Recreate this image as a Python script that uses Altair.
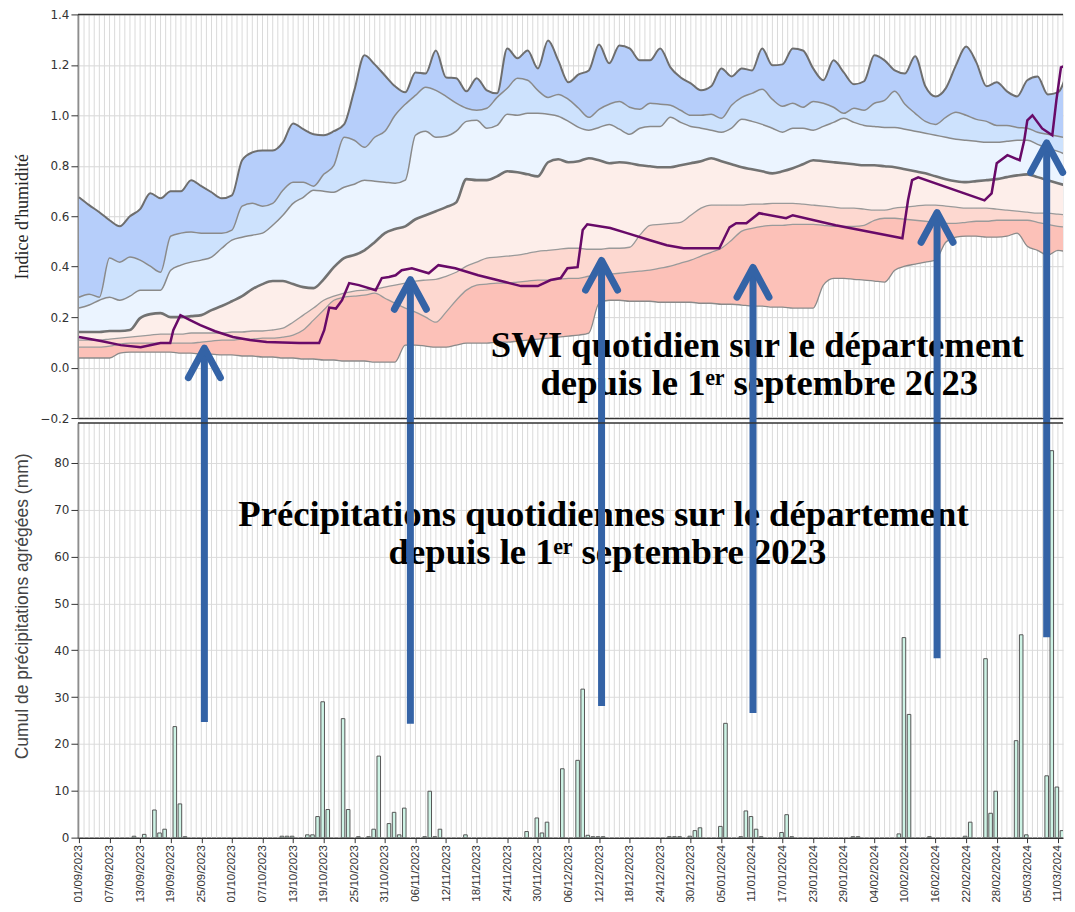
import altair as alt
import pandas as pd

# ---------------- data ----------------
tick_days = list(range(0, 193, 6))
tick_labels = ["01/09/2023", "07/09/2023", "13/09/2023", "19/09/2023", "25/09/2023",
               "01/10/2023", "07/10/2023", "13/10/2023", "19/10/2023", "25/10/2023", "31/10/2023",
               "06/11/2023", "12/11/2023", "18/11/2023", "24/11/2023", "30/11/2023",
               "06/12/2023", "12/12/2023", "18/12/2023", "24/12/2023", "30/12/2023",
               "05/01/2024", "11/01/2024", "17/01/2024", "23/01/2024", "29/01/2024",
               "04/02/2024", "10/02/2024", "16/02/2024", "22/02/2024", "28/02/2024",
               "05/03/2024", "11/03/2024"]

swi_days = list(range(0, 195, 2))
A = [0.675,0.644,0.616,0.584,0.560,0.600,0.628,0.691,0.671,0.699,
     0.699,0.743,0.719,0.695,0.671,0.683,0.822,0.853,0.861,0.861,
     0.893,0.968,0.945,0.925,0.921,0.937,0.964,1.099,1.238,1.202,
     1.158,1.115,1.091,1.170,1.166,1.257,1.150,1.147,1.095,1.147,
     1.099,1.087,1.265,1.226,1.257,1.186,1.297,1.218,1.131,1.162,
     1.178,1.281,1.206,1.277,1.265,1.218,1.218,1.265,1.190,1.150,
     1.127,1.099,1.115,1.186,1.154,1.186,1.178,1.265,1.198,1.202,
     1.265,1.257,1.186,1.139,1.218,1.170,1.123,1.135,1.238,1.218,
     1.178,1.166,1.234,1.115,1.075,1.107,1.198,1.273,1.210,1.115,
     1.131,1.095,1.075,1.139,1.154,1.083,1.091,1.186]
B = [0.279,0.291,0.279,0.434,0.418,0.438,0.426,0.402,0.378,0.521,
     0.533,0.537,0.533,0.533,0.533,0.545,0.640,0.651,0.640,0.651,
     0.703,0.735,0.735,0.719,0.766,0.802,0.913,0.901,0.873,0.913,
     0.937,1.000,1.044,1.079,1.111,1.099,1.075,1.048,1.028,1.020,
     1.028,1.071,1.107,1.147,1.139,1.099,1.071,1.083,1.063,1.028,
     0.992,1.024,1.044,1.055,1.032,1.024,1.048,1.044,1.040,1.020,
     1.000,1.000,1.004,0.988,1.040,1.071,1.087,1.103,1.063,1.036,
     1.048,1.032,1.055,1.048,1.032,1.008,1.028,1.020,1.048,1.059,
     1.095,1.044,1.008,0.976,0.964,0.992,1.012,1.000,0.984,0.976,
     0.960,0.960,0.952,0.949,0.933,0.925,0.917,0.909]
C = [0.236,0.248,0.267,0.279,0.267,0.283,0.307,0.307,0.307,0.386,
     0.406,0.418,0.426,0.438,0.473,0.505,0.517,0.525,0.533,0.564,
     0.604,0.651,0.675,0.703,0.699,0.695,0.715,0.727,0.743,0.739,
     0.735,0.731,0.743,0.921,0.937,0.913,0.917,0.937,0.976,0.980,
     0.949,0.960,1.004,1.000,1.008,1.008,1.004,0.996,0.976,0.952,
     0.941,0.952,0.964,0.945,0.925,0.949,0.956,0.956,0.992,0.972,
     0.956,0.949,0.941,0.933,0.949,0.984,0.976,0.964,0.949,0.933,
     0.949,0.949,0.941,0.956,0.972,0.988,0.972,0.960,0.956,0.952,
     0.952,0.945,0.937,0.929,0.921,0.913,0.905,0.901,0.897,0.893,
     0.893,0.897,0.901,0.901,0.885,0.869,0.857,0.841]
D = [0.141,0.141,0.141,0.145,0.145,0.149,0.196,0.212,0.216,0.200,
     0.200,0.204,0.208,0.228,0.244,0.263,0.283,0.311,0.331,0.343,
     0.343,0.331,0.319,0.315,0.350,0.398,0.434,0.446,0.465,0.497,
     0.533,0.549,0.560,0.588,0.604,0.620,0.636,0.655,0.747,0.743,
     0.743,0.758,0.778,0.774,0.766,0.758,0.814,0.826,0.814,0.818,
     0.830,0.822,0.810,0.814,0.810,0.802,0.798,0.794,0.794,0.802,
     0.810,0.818,0.830,0.818,0.806,0.794,0.786,0.778,0.770,0.778,
     0.790,0.806,0.822,0.818,0.814,0.810,0.806,0.802,0.802,0.798,
     0.794,0.786,0.778,0.770,0.758,0.747,0.739,0.735,0.739,0.743,
     0.747,0.755,0.762,0.766,0.755,0.743,0.731,0.719]
E = [0.109,0.109,0.109,0.113,0.117,0.121,0.125,0.129,0.133,0.133,
     0.133,0.137,0.137,0.137,0.137,0.141,0.141,0.145,0.145,0.149,
     0.156,0.180,0.208,0.236,0.267,0.283,0.295,0.303,0.307,0.311,
     0.319,0.327,0.335,0.343,0.347,0.350,0.362,0.378,0.402,0.418,
     0.434,0.438,0.442,0.446,0.453,0.461,0.465,0.469,0.473,0.473,
     0.469,0.469,0.473,0.473,0.477,0.525,0.564,0.568,0.572,0.576,
     0.604,0.632,0.644,0.644,0.644,0.644,0.648,0.648,0.651,0.651,
     0.651,0.648,0.644,0.640,0.636,0.632,0.632,0.628,0.624,0.624,
     0.632,0.636,0.640,0.644,0.644,0.640,0.636,0.632,0.632,0.632,
     0.628,0.624,0.620,0.616,0.612,0.612,0.608,0.604]
F = [0.081,0.081,0.081,0.085,0.093,0.097,0.097,0.097,0.097,0.097,
     0.097,0.097,0.101,0.105,0.109,0.109,0.113,0.113,0.117,0.117,
     0.121,0.129,0.149,0.188,0.228,0.267,0.279,0.283,0.287,0.295,
     0.275,0.255,0.236,0.220,0.200,0.180,0.220,0.267,0.307,0.327,
     0.331,0.335,0.335,0.339,0.343,0.347,0.347,0.350,0.354,0.354,
     0.362,0.366,0.370,0.374,0.378,0.382,0.386,0.394,0.402,0.414,
     0.426,0.442,0.457,0.473,0.505,0.541,0.552,0.560,0.564,0.564,
     0.568,0.568,0.568,0.564,0.560,0.560,0.560,0.564,0.584,0.592,
     0.592,0.588,0.584,0.580,0.576,0.572,0.572,0.576,0.580,0.580,
     0.584,0.584,0.584,0.584,0.576,0.568,0.560,0.556]
G = [0.038,0.038,0.038,0.038,0.057,0.061,0.061,0.061,0.061,0.061,
     0.057,0.057,0.053,0.053,0.050,0.050,0.046,0.046,0.042,0.042,
     0.038,0.038,0.034,0.034,0.030,0.030,0.026,0.026,0.026,0.022,
     0.022,0.022,0.089,0.089,0.085,0.081,0.081,0.089,0.097,0.097,
     0.097,0.101,0.101,0.105,0.109,0.113,0.117,0.121,0.125,0.129,
     0.137,0.255,0.267,0.267,0.263,0.263,0.263,0.259,0.259,0.259,
     0.259,0.255,0.255,0.251,0.251,0.248,0.244,0.244,0.240,0.240,
     0.236,0.236,0.236,0.327,0.354,0.354,0.350,0.347,0.343,0.339,
     0.386,0.402,0.410,0.418,0.426,0.497,0.517,0.521,0.521,0.517,
     0.517,0.521,0.533,0.481,0.465,0.446,0.465,0.457]

p_days = [0, 4.3, 8.2, 12.1, 16.0, 17.9, 18.5, 19.9, 21.8, 23.8,
          26.7, 30.2, 33.5, 36.8, 43.2, 47.1, 48.1, 49.1, 50.4, 51.6,
          53.0, 54.9, 58.2, 59.4, 60.8, 62.1, 63.3, 65.3, 68.6, 70.5,
          73.8, 78.3, 83.6, 86.7, 90.0, 92.5, 94.5, 95.8, 97.8, 98.8,
          99.7, 104.2, 107.5, 112.0, 115.3, 118.6, 122.5, 125.6, 127.6, 128.9,
          130.9, 133.4, 138.7, 140.0, 148.4, 161.5, 162.6, 163.4, 164.6, 177.6,
          179.0, 180.0, 182.1, 184.5, 185.4, 186.0, 187.0, 188.9, 190.9, 191.7,
          192.6, 193.6]
p_vals = [0.121, 0.105, 0.089, 0.081, 0.097, 0.097, 0.148, 0.208, 0.188, 0.168,
          0.144, 0.121, 0.109, 0.101, 0.097, 0.097, 0.148, 0.238, 0.234, 0.267,
          0.335, 0.327, 0.307, 0.355, 0.359, 0.366, 0.386, 0.394, 0.374, 0.406,
          0.394, 0.366, 0.339, 0.323, 0.323, 0.347, 0.355, 0.394, 0.398, 0.545,
          0.568, 0.553, 0.533, 0.505, 0.485, 0.473, 0.473, 0.473, 0.556, 0.572,
          0.572, 0.612, 0.592, 0.604, 0.564, 0.513, 0.663, 0.743, 0.754, 0.663,
          0.691, 0.810, 0.842, 0.822, 0.901, 0.980, 1.000, 0.948, 0.921, 1.059,
          1.190, 1.198]

rain_days = [10, 12, 14, 15, 16, 18, 19, 20, 39, 40, 41, 44, 45, 46, 47, 48, 51, 52, 54,
             56, 57, 58, 60, 61, 62, 63, 67, 68, 69, 70, 75, 87, 89, 90, 91, 94, 97, 98, 99,
             100, 101, 102, 115, 116, 117, 119, 120, 121, 125, 126, 129, 130, 131, 132, 133,
             137, 138, 139, 151, 152, 160, 161, 162, 166, 173, 174, 177, 178, 179, 183, 184,
             185, 189, 190, 191, 192]
rain_mm = [0.3, 0.7, 5.9, 1.0, 1.8, 23.7, 7.2, 0.2, 0.3, 0.3, 0.3, 0.6, 0.6, 4.5, 29.0, 6.0,
           25.4, 6.0, 0.2, 0.2, 1.8, 17.4, 3.0, 5.4, 0.6, 6.3, 0.2, 9.9, 0.2, 1.8, 0.6, 1.3,
           4.2, 1.0, 3.3, 14.7, 16.5, 31.7, 0.5, 0.2, 0.2, 0.2, 0.2, 0.2, 0.2, 0.3, 1.5, 2.1,
           2.4, 24.4, 0.2, 5.7, 4.5, 1.8, 0.2, 1.1, 4.9, 0.2, 0.2, 0.2, 0.8, 42.7, 26.3, 0.2,
           0.3, 3.3, 38.2, 5.2, 9.9, 20.7, 43.3, 0.6, 13.2, 82.6, 10.8, 1.5]

arrow_day = [24.6, 65.0, 102.5, 132.2, 168.3, 189.8]
arrow_tip = [104.5, 119.1, 123.2, 121.7, 133.4, 148.3]
arrow_tail = [24.7, 24.3, 28.1, 26.6, 38.3, 42.8]

swi_ticks = [-0.2, 0.0, 0.2, 0.4, 0.6, 0.8, 1.0, 1.2, 1.4]
rain_ticks = [0, 10, 20, 30, 40, 50, 60, 70, 80]

# ---------------- frames ----------------
swi = pd.DataFrame({"day": swi_days, "A": A, "B": B, "C": C, "D": D, "E": E, "F": F, "G": G})
cur = pd.DataFrame({"day": p_days, "swi": p_vals})
rain = pd.DataFrame({"day": rain_days, "mm": rain_mm})
arrows = pd.DataFrame({"day": arrow_day, "tip": arrow_tip, "tail": arrow_tail})
grid_days = pd.DataFrame({"day": list(range(0, 194))})
one = pd.DataFrame({"k": [0]})

W = 986
H_TOP = 404
H_BOT = 415
xscale = alt.Scale(domain=[-0.2, 193.0], nice=False, zero=False, padding=0)
yscale_top = alt.Scale(domain=[-0.2, 1.4], nice=False, zero=False, padding=0)
yscale_bot = alt.Scale(domain=[0, 88.5], nice=False, zero=True, padding=0)

AX = dict(domainColor="#333333", domainWidth=1.5, tickColor="#333333")

x_top_axis = alt.Axis(labels=False, ticks=False, grid=False, title=None, **AX)
y_top_axis = alt.Axis(values=swi_ticks, format=".1f", grid=True, gridColor="#d6d6d6",
                      tickSize=7, labelPadding=2, labelFont="DejaVu Sans", labelFontSize=12,
                      labelColor="#333333", title="Indice d'humidité",
                      titleFont="Liberation Sans Narrow", titleFontSize=18,
                      titleFontWeight="normal", titleColor="#222222", titlePadding=8, **AX)

label_expr = "[" + ",".join("'%s'" % s for s in tick_labels) + "][round(datum.value / 6)]"
x_bot_axis = alt.Axis(values=tick_days, labelExpr=label_expr, labelAngle=-90, tickSize=5,
                      labelPadding=2, labelFont="Liberation Sans", labelFontSize=11.5,
                      labelColor="#333333", labelOverlap=False, labelFlush=False,
                      grid=False, title=None, **AX)
y_bot_axis = alt.Axis(values=rain_ticks, grid=True, gridColor="#dcdcdc", tickSize=7,
                      labelPadding=2, labelFont="DejaVu Sans", labelFontSize=12,
                      labelColor="#333333", title="Cumul de précipitations agrégées (mm)",
                      titleFont="Liberation Sans", titleFontSize=17.5,
                      titleFontWeight="normal", titleColor="#444444", titlePadding=22,
                      titleY=183, **AX)

xt = alt.X("day:Q", scale=xscale, axis=x_top_axis)


def yt(field):
    return alt.Y(field + ":Q", scale=yscale_top, axis=y_top_axis)


top_layers = [
    alt.Chart(grid_days).mark_rule(color="#dadada", strokeWidth=1).encode(x=xt)
]
bands = [("A", "B", "#b6cefa"), ("B", "C", "#cde2fd"), ("C", "D", "#ebf4ff"),
         ("D", "E", "#fdeeea"), ("E", "F", "#fdd8d0"), ("F", "G", "#fcc1b8")]
for hi, lo, col in bands:
    top_layers.append(
        alt.Chart(swi).mark_area(color=col, opacity=1, clip=True, interpolate="monotone")
        .encode(x=xt, y=yt(hi), y2=lo + ":Q")
    )
line_styles = [("A", "#6e6e6e", 2.0), ("B", "#8a8a8a", 1.5), ("C", "#8a8a8a", 1.5),
               ("D", "#727272", 2.6), ("E", "#9a9a9a", 1.3), ("F", "#9a9a9a", 1.3),
               ("G", "#8a8a8a", 1.3)]
for f, col, w in line_styles:
    top_layers.append(
        alt.Chart(swi).mark_line(color=col, strokeWidth=w, clip=True, interpolate="monotone")
        .encode(x=xt, y=yt(f))
    )
top_layers.append(
    alt.Chart(cur).mark_line(color="#680a68", strokeWidth=2.5, clip=True).encode(x=xt, y=yt("swi"))
)
TXT = dict(font="Liberation Serif", fontSize=36.7, fontWeight="bold", color="black",
           align="center", baseline="alphabetic")
top_layers.append(alt.Chart(one).mark_text(text="SWI quotidien sur le département", **TXT)
                  .encode(x=alt.value(680), y=alt.value(343)))
top_layers.append(alt.Chart(one).mark_text(text="depuis le 1ᵉʳ septembre 2023", **TXT)
                  .encode(x=alt.value(682), y=alt.value(381)))
top_layers.append(alt.Chart(one).mark_rule(color="#333333", strokeWidth=1.5)
                  .encode(y=alt.value(0)))

top = alt.layer(*top_layers).properties(width=W, height=H_TOP)

xb = alt.X("day:Q", scale=xscale, axis=x_bot_axis)
bot_layers = [
    alt.Chart(grid_days).mark_rule(color="#dadada", strokeWidth=1).encode(x=xb),
    alt.Chart(rain).transform_calculate(x1="datum.day + 0.45", x2="datum.day + 1.15", base="0")
    .mark_bar(fill="#cdf3e5", stroke="#555555", strokeWidth=1, opacity=1, clip=True)
    .encode(x=alt.X("x1:Q", scale=xscale, axis=x_bot_axis), x2="x2:Q",
            y=alt.Y("mm:Q", scale=yscale_bot, axis=y_bot_axis), y2="base:Q"),
    alt.Chart(one).mark_text(text="Précipitations quotidiennes sur le département", **TXT)
    .encode(x=alt.value(526), y=alt.value(103)),
    alt.Chart(one).mark_text(text="depuis le 1ᵉʳ septembre 2023", **TXT)
    .encode(x=alt.value(530), y=alt.value(141)),
    alt.Chart(arrows).mark_rule(color="#3463a6", strokeWidth=7)
    .encode(x=xb, y=alt.Y("tip:Q", scale=yscale_bot, axis=y_bot_axis), y2="tail:Q"),
    alt.Chart(arrows).mark_point(shape="M-1,0.85L0,-1L1,0.85", size=1024, filled=False,
                                 color="#3463a6", strokeWidth=7, opacity=1,
                                 strokeCap="round", strokeJoin="round", yOffset=16)
    .encode(x=xb, y=alt.Y("tip:Q", scale=yscale_bot, axis=y_bot_axis)),
    alt.Chart(one).mark_rule(color="#333333", strokeWidth=1.5).encode(y=alt.value(0)),
]
bottom = alt.layer(*bot_layers).properties(width=W, height=H_BOT)

chart = (alt.vconcat(top, bottom, spacing=5, bounds="flush")
         .properties(padding={"left": 5, "top": 0, "right": 0, "bottom": 0})
         .configure_view(stroke=None))

chart.save("out.html", embed_options={"renderer": "svg", "actions": False})
